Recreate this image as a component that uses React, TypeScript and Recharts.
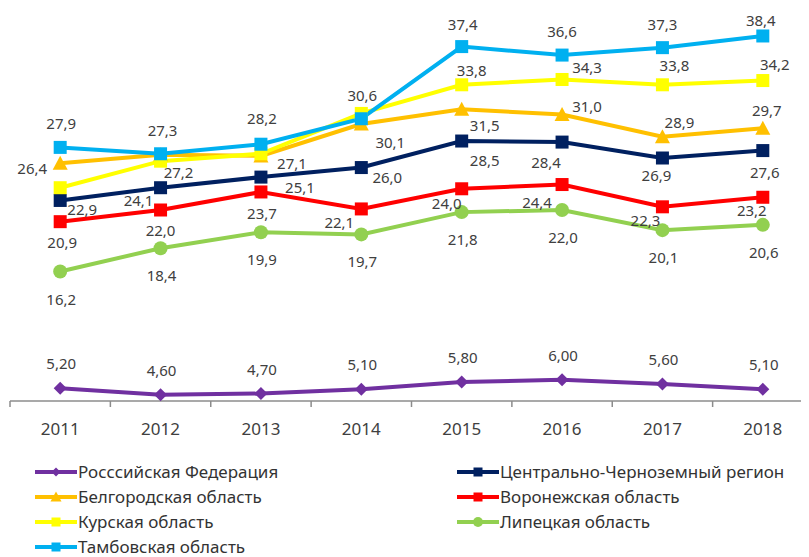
import React from "react";
import { LineChart, Line, XAxis, YAxis, LabelList } from "recharts";

const years = ["2011", "2012", "2013", "2014", "2015", "2016", "2017", "2018"];
const rf = [5.2, 4.6, 4.7, 5.1, 5.8, 6.0, 5.6, 5.1];
const ccr = [22.9, 24.1, 25.1, 26.0, 28.5, 28.4, 26.9, 27.6];
const belgorod = [26.4, 27.2, 27.1, 30.1, 31.5, 31.0, 28.9, 29.7];
const voronezh = [20.9, 22.0, 23.7, 22.1, 24.0, 24.4, 22.3, 23.2];
const kursk = [24.1, 26.6, 27.3, 31.1, 33.8, 34.3, 33.8, 34.2];
const lipetsk = [16.2, 18.4, 19.9, 19.7, 21.8, 22.0, 20.1, 20.6];
const tambov = [27.9, 27.3, 28.2, 30.6, 37.4, 36.6, 37.3, 38.4];

const data = years.map((year, i) => ({
  year,
  rf: rf[i],
  ccr: ccr[i],
  belgorod: belgorod[i],
  voronezh: voronezh[i],
  kursk: kursk[i],
  lipetsk: lipetsk[i],
  tambov: tambov[i],
}));

type Shape = "diamond" | "square" | "triangle" | "circle";
type Off = [number, number] | null;

const u = (dx: number, dy: number): Off[] => years.map(() => [dx, dy]);

const series: {
  key: string;
  name: string;
  color: string;
  shape: Shape;
  decimals: number;
  offsets: Off[];
}[] = [
  { key: "rf", name: "Росссийская Федерация", color: "#7030A0", shape: "diamond", decimals: 2, offsets: u(1, -25) },
  {
    key: "ccr", name: "Центрально-Черноземный регион", color: "#002060", shape: "square", decimals: 1,
    offsets: [[22, 9], [-22, 12], [39, 10], [26, 9], [23, 19], [-16, 20], [-6, 17], [2, 21]],
  },
  {
    key: "belgorod", name: "Белгородская область", color: "#FFC000", shape: "triangle", decimals: 1,
    offsets: [[-28, 5], [18, 17], [31, 7], [29, 18], [23, 16], [25, -9], [17, -15], [4, -18]],
  },
  {
    key: "voronezh", name: "Воронежская область", color: "#FF0000", shape: "square", decimals: 1,
    offsets: [[2, 20], [0, 20], [1, 21], [-22, 13], [-15, 14], [-25, 17], [-17, 13], [-11, 13]],
  },
  {
    key: "kursk", name: "Курская область", color: "#FFFF00", shape: "square", decimals: 1,
    offsets: [null, null, null, null, [10, -15], [25, -12], [12, -20], [12, -17]],
  },
  { key: "lipetsk", name: "Липецкая область", color: "#92D050", shape: "circle", decimals: 1, offsets: u(1, 27) },
  {
    key: "tambov", name: "Тамбовская область", color: "#00B0F0", shape: "square", decimals: 1,
    offsets: [[1, -24], [2, -24], [1, -26], [1, -24], [1, -23], [0, -24], [0, -24], [-2, -16]],
  },
];

const legendOrder = ["rf", "ccr", "belgorod", "voronezh", "kursk", "lipetsk", "tambov"];

const PLOT_LEFT = 2;
const PLOT_WIDTH = 803;
const HALF_BAND = PLOT_WIDTH / years.length / 2;
const AXIS_COLOR = "#8c8c8c";
const TEXT_COLOR = "#404040";
const FONT = "'Noto Sans', 'DejaVu Sans', sans-serif";

function Marker({ shape, cx, cy, color, size }: { shape: Shape; cx: number; cy: number; color: string; size: number }) {
  const h = size / 2;
  if (shape === "square") return <rect x={cx - h} y={cy - h} width={size} height={size} fill={color} />;
  if (shape === "circle") return <circle cx={cx} cy={cy} r={h} fill={color} />;
  if (shape === "triangle")
    return <polygon points={`${cx},${cy - h - 1} ${cx + h + 1},${cy + h} ${cx - h - 1},${cy + h}`} fill={color} />;
  return <polygon points={`${cx},${cy - h} ${cx + h},${cy} ${cx},${cy + h} ${cx - h},${cy}`} fill={color} />;
}

const Tick = (props: any) => {
  const { x, y, payload } = props;
  return (
    <g>
      <line x1={x - HALF_BAND} y1={y} x2={x - HALF_BAND} y2={y + 6} stroke={AXIS_COLOR} strokeWidth={1.5} />
      <text x={x} y={y + 34} textAnchor="middle" fontSize={17} fill={TEXT_COLOR} fontFamily={FONT}>
        {payload.value}
      </text>
    </g>
  );
};

function LegendIcon({ shape, color }: { shape: Shape; color: string }) {
  return (
    <svg width={42} height={14} style={{ display: "block" }}>
      <line x1={0} y1={7} x2={42} y2={7} stroke={color} strokeWidth={4} />
      <Marker shape={shape} cx={21} cy={7} color={color} size={shape === "circle" ? 10 : 9} />
    </svg>
  );
}

export default function App() {
  return (
    <div style={{ position: "relative", width: 801, height: 549, overflow: "hidden", fontFamily: FONT }}>
      <LineChart
        width={PLOT_LEFT + PLOT_WIDTH}
        height={433}
        data={data}
        margin={{ top: 11, right: 0, bottom: 0, left: PLOT_LEFT }}
      >
        <XAxis
          dataKey="year"
          height={40}
          tickSize={0}
          tickMargin={0}
          tickLine={false}
          padding={{ left: HALF_BAND, right: HALF_BAND }}
          axisLine={{ stroke: AXIS_COLOR, strokeWidth: 1.5 }}
          tick={<Tick />}
          interval={0}
        />
        <YAxis hide domain={[4, 40]} />
        {series.map((s) => (
          <Line
            key={s.key}
            dataKey={s.key}
            name={s.name}
            stroke={s.color}
            strokeWidth={4}
            isAnimationActive={false}
            activeDot={false}
            dot={(p: any) => (
              <Marker
                key={`${s.key}-${p.index}`}
                shape={s.shape}
                cx={p.cx}
                cy={p.cy}
                color={s.color}
                size={s.shape === "circle" ? 14 : 13}
              />
            )}
          >
            <LabelList
              dataKey={s.key}
              content={(p: any) => {
                const off = s.offsets[p.index];
                if (!off || p.value == null) return null;
                return (
                  <text
                    x={p.x + off[0]}
                    y={p.y + off[1]}
                    textAnchor="middle"
                    dominantBaseline="central"
                    fontSize={15}
                    fill={TEXT_COLOR}
                    fontFamily={FONT}
                  >
                    {Number(p.value).toFixed(s.decimals).replace(".", ",")}
                  </text>
                );
              }}
            />
          </Line>
        ))}
      </LineChart>
      {legendOrder.map((k, i) => {
        const s = series.find((q) => q.key === k)!;
        const col = i % 2;
        const row = Math.floor(i / 2);
        return (
          <div
            key={k}
            style={{
              position: "absolute",
              left: col === 0 ? 27 : 449,
              top: 453 + row * 25,
              height: 22,
              display: "flex",
              alignItems: "center",
              whiteSpace: "nowrap",
              fontSize: 17,
              lineHeight: "20px",
              color: "#333",
            }}
          >
            <LegendIcon shape={s.shape} color={s.color} />
            <span style={{ marginLeft: 1 }}>{s.name}</span>
          </div>
        );
      })}
    </div>
  );
}
